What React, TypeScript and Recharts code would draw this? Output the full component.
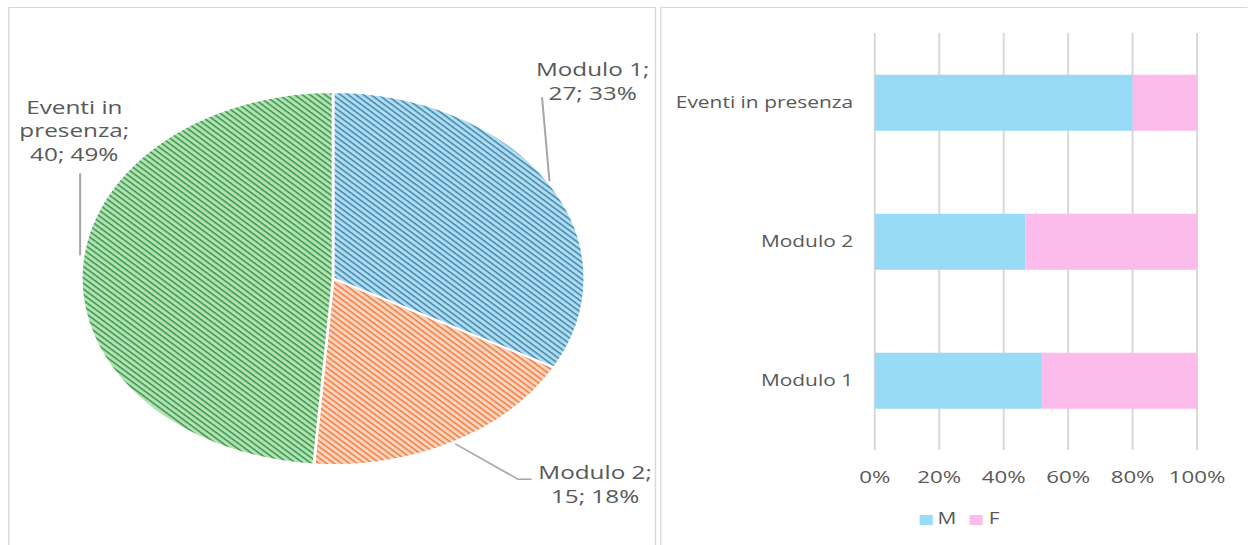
import {
  PieChart,
  Pie,
  Cell,
  BarChart,
  Bar,
  XAxis,
  YAxis,
  CartesianGrid,
  Legend,
} from 'recharts';

// pie: partecipanti per attività
const SLICE_NAMES = ['Modulo 1', 'Modulo 2', 'Eventi in presenza'];
const SLICE_VALUES = [27, 15, 40];

// bar: ripartizione M / F
const BAR_CATEGORIES = ['Modulo 1', 'Modulo 2', 'Eventi in presenza'];
const M_VALUES = [14, 7, 32];
const F_VALUES = [13, 8, 8];
const X_TICKS = [0, 0.2, 0.4, 0.6, 0.8, 1];

const FONT = '"Open Sans", sans-serif';
const TEXT = '#595959';
const GRID = '#d9d9d9';
const SX = 1.35; // the whole picture is stretched horizontally

const PATTERNS = [
  { id: 'hatch-blue', bg: '#b3dcef', fg: '#3a86b0' },
  { id: 'hatch-orange', bg: '#fcd5bf', fg: '#ee7a3e' },
  { id: 'hatch-green', bg: '#b3e2b7', fg: '#369444' },
];

// label placement relative to the slice edge point at mid angle
const LABEL_LAYOUT = [
  { tx: 32, ty: -114, leader: [[0, -2], [-5.5, -86]] },
  { tx: 105, ty: 30, leader: [[1.3, 1.4], [48, 37], [58, 37]] },
  { tx: -5.3, ty: -165, leader: [[-1, -16], [-1, -98]] },
];

const pieData = SLICE_NAMES.map((name, i) => ({ name, value: SLICE_VALUES[i] }));
const barData = BAR_CATEGORIES.map((name, i) => ({ name, M: M_VALUES[i], F: F_VALUES[i] }));

function wrap(text: string, max: number) {
  const lines: string[] = [];
  let cur = '';
  text.split(' ').forEach((w) => {
    if (cur && (cur + ' ' + w).length > max) {
      lines.push(cur);
      cur = w;
    } else {
      cur = cur ? cur + ' ' + w : w;
    }
  });
  if (cur) lines.push(cur);
  return lines;
}

const RAD = Math.PI / 180;

function PieLabel(props: any) {
  const { cx, cy, midAngle, outerRadius, index, name, value, percent } = props;
  const ex = cx + outerRadius * Math.cos(-midAngle * RAD);
  const ey = cy + outerRadius * Math.sin(-midAngle * RAD);
  const lay = LABEL_LAYOUT[index];
  const lines = wrap(`${name}; ${value}; ${Math.round(percent * 100)}%`, 10);
  const pts = lay.leader.map(([dx, dy]) => `${ex + dx},${ey + dy}`).join(' ');
  return (
    <g>
      <polyline points={pts} fill="none" stroke="#a6a6a6" strokeWidth={1.5} />
      {lines.map((l, i) => (
        <text
          key={i}
          x={ex + lay.tx}
          y={ey + lay.ty + i * 23.5}
          textAnchor="middle"
          dominantBaseline="central"
          fill={TEXT}
          fontSize={18}
          fontFamily={FONT}
        >
          {l}
        </text>
      ))}
    </g>
  );
}

export default function App() {
  return (
    <div
      style={{
        position: 'absolute',
        left: 0,
        top: 0,
        width: 1248 / SX,
        height: 545,
        overflow: 'hidden',
        transform: `scaleX(${SX})`,
        transformOrigin: '0 0',
        background: '#fff',
        fontFamily: FONT,
      }}
    >
      <svg width={0} height={0} style={{ position: 'absolute' }}>
        <defs>
          {PATTERNS.map((p) => (
            <pattern
              key={p.id}
              id={p.id}
              width={4}
              height={4}
              patternUnits="userSpaceOnUse"
              patternTransform="rotate(45)"
            >
              <rect width={4} height={4} fill={p.bg} />
              <rect width={4} height={1.3} fill={p.fg} />
            </pattern>
          ))}
        </defs>
      </svg>

      <div
        style={{
          position: 'absolute',
          left: 6,
          top: 7,
          width: 480,
          height: 600,
          border: `1.5px solid ${GRID}`,
          boxSizing: 'border-box',
        }}
      />
      <div
        style={{
          position: 'absolute',
          left: 488.5,
          top: 7,
          width: 500,
          height: 600,
          border: `1.5px solid ${GRID}`,
          boxSizing: 'border-box',
        }}
      />

      <div style={{ position: 'absolute', left: 0, top: 0 }}>
        <PieChart width={486} height={545} margin={{ top: 0, right: 0, bottom: 0, left: 0 }}>
          <Pie
            data={pieData}
            dataKey="value"
            nameKey="name"
            cx={246.7}
            cy={278.5}
            outerRadius={186.5}
            startAngle={90}
            endAngle={-270}
            stroke="#fff"
            strokeWidth={2}
            label={PieLabel}
            labelLine={false}
            isAnimationActive={false}
          >
            {pieData.map((_, i) => (
              <Cell key={i} fill={`url(#${PATTERNS[i].id})`} />
            ))}
          </Pie>
        </PieChart>
      </div>

      <div style={{ position: 'absolute', left: 494, top: 0 }}>
        <BarChart
          width={430}
          height={545}
          data={barData}
          layout="vertical"
          stackOffset="expand"
          barCategoryGap="30%"
          margin={{ top: 33, right: 37.3, bottom: 25, left: 0 }}
        >
          <CartesianGrid horizontal={false} stroke={GRID} strokeWidth={1.5} />
          <XAxis
            type="number"
            domain={[0, 1]}
            ticks={X_TICKS}
            tickFormatter={(v) => `${Math.round(v * 100)}%`}
            axisLine={false}
            tickLine={false}
            tickMargin={15}
            height={40}
            tick={{ fill: TEXT, fontSize: 16.5, fontFamily: FONT }}
          />
          <YAxis
            type="category"
            dataKey="name"
            reversed
            width={154}
            axisLine={false}
            tickLine={false}
            tickMargin={10}
            tick={{ fill: TEXT, fontSize: 15.5, fontFamily: FONT }}
          />
          <Legend
            height={30}
            iconType="square"
            iconSize={10}
            itemSorter={(item: any) => (item.value === 'M' ? 0 : 1)}
            wrapperStyle={{ top: 507, left: 121.5, width: 200, fontSize: 15.5 }}
            formatter={(v) => <span style={{ color: TEXT }}>{v}</span>}
          />
          <Bar dataKey="M" stackId="a" fill="#97dbf6" isAnimationActive={false} />
          <Bar dataKey="F" stackId="a" fill="#fbbcec" isAnimationActive={false} />
        </BarChart>
      </div>
    </div>
  );
}
